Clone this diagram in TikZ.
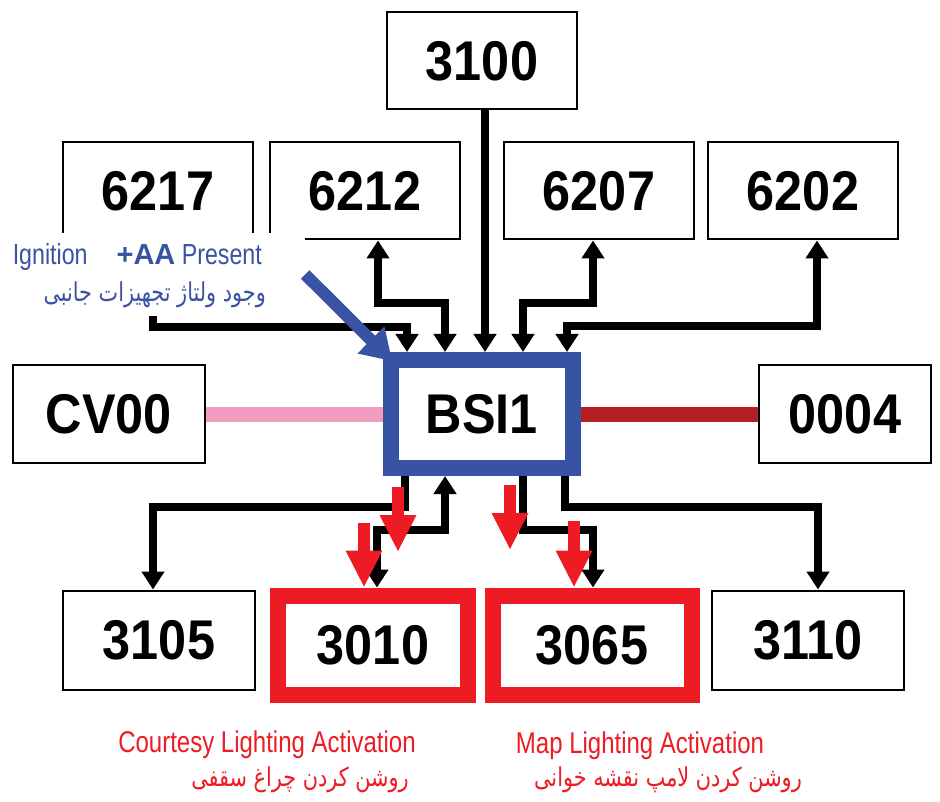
\documentclass[tikz,border=0pt]{standalone}
\usepackage{fontspec}
\usetikzlibrary{arrows.meta, positioning}
\setmainfont{Liberation Sans}
\newfontfamily\numfont[FakeStretch=0.9]{Liberation Sans}
\newfontfamily\condfont[FakeStretch=0.8]{Liberation Sans}
\newfontfamily\farsifont[Script=Arabic, FakeStretch=0.8]{DejaVu Sans}
\TeXXeTstate=1
\definecolor{bsiblue}{RGB}{57,83,164}
\definecolor{markred}{RGB}{237,28,36}
\definecolor{linkpink}{RGB}{242,156,192}
\definecolor{linkdark}{RGB}{181,31,36}

\begin{document}
\begin{tikzpicture}[
        x=1pt, y=-1pt, on grid,
        ecu/.style={draw, line width=2pt, fill=white, minimum width=190pt, minimum height=97pt, inner sep=0pt, font=\numfont\bfseries\fontsize{56}{60}\selectfont},
        hub/.style={ecu, draw=bsiblue, line width=16pt, minimum width=182pt, minimum height=108pt},
        lit/.style={ecu, draw=markred, line width=16pt, minimum width=190pt, minimum height=99pt},
        wire/.style={line width=8pt},
        into/.style={wire, -{Triangle[width=22pt,length=18pt]}},
        both/.style={wire, {Triangle[width=22pt,length=18pt]}-{Triangle[width=22pt,length=18pt]}},
        hint/.style={markred, line width=12pt, -{Triangle[width=34pt,length=37pt]}},
        pointer/.style={bsiblue, line width=12pt, shorten >=-13pt, -{Triangle[width=36pt,length=30pt]}},
        bus/.style={line width=15pt},
        note/.style={fill=white, minimum width=305pt, minimum height=83pt, inner sep=0pt},
        bluetext/.style={text=bsiblue, inner sep=0pt},
        redtext/.style={text=markred, inner sep=0pt}
    ]
        \fill[white] (0,0) rectangle (940,802);
        \useasboundingbox (0,0) rectangle (940,802);

        % modules
        \node[hub] (bsi) at (482,414) {BSI1};
        \node[ecu, above=353pt of bsi] (n3100) {3100};
        \node[ecu, above left=223pt and 324pt of bsi] (n6217) {6217};
        \node[ecu, above left=223pt and 117pt of bsi] (n6212) {6212};
        \node[ecu, above right=223pt and 117pt of bsi] (n6207) {6207};
        \node[ecu, above right=223pt and 321pt of bsi] (n6202) {6202};
        \node[ecu, left=373pt of bsi, minimum width=192pt, minimum height=98pt] (cv00) {CV00};
        \node[ecu, right=363pt of bsi, minimum width=172pt, minimum height=98pt] (n0004) {0004};
        \node[ecu, below left=226pt and 323pt of bsi, minimum width=192pt, minimum height=99pt] (n3105) {3105};
        \node[lit, below left=231pt and 109pt of bsi] (n3010) {3010};
        \node[lit, below right=231pt and 110pt of bsi, minimum width=199pt] (n3065) {3065};
        \node[ecu, below right=226pt and 326pt of bsi, minimum width=192pt, minimum height=99pt] (n3110) {3110};

        % buses
        \draw[bus, linkpink] (cv00.east) -- (bsi.west);
        \draw[bus, linkdark] (bsi.east) -- (n0004.west);

        % upper wiring
        \draw[into] ([xshift=3pt]n3100.south) -- ([xshift=3pt]bsi.north);
        \draw[into] ([xshift=-5pt]n6217.south) |- ([xshift=-75pt,yshift=25pt]bsi.north) -- ([xshift=-75pt]bsi.north);
        \draw[both] ([xshift=13pt]n6212.south) |- ([xshift=-37pt,yshift=49pt]bsi.north) -- ([xshift=-37pt]bsi.north);
        \draw[both] ([xshift=-6pt]n6207.south) |- ([xshift=41pt,yshift=49pt]bsi.north) -- ([xshift=41pt]bsi.north);
        \draw[both] ([xshift=14pt]n6202.south) |- ([xshift=85pt,yshift=26pt]bsi.north) -- ([xshift=85pt]bsi.north);

        % lower wiring
        \draw[into] ([xshift=-77pt]bsi.south) -- ([xshift=-77pt,yshift=-31pt]bsi.south) -| ([xshift=-6pt]n3105.north);
        \draw[both] ([xshift=-37pt]bsi.south) -- ([xshift=-37pt,yshift=-54pt]bsi.south) -| ([xshift=4pt]n3010.north);
        \draw[into] ([xshift=41pt]bsi.south) -- ([xshift=41pt,yshift=-54pt]bsi.south) -| ([xshift=1pt]n3065.north);
        \draw[into] ([xshift=83pt]bsi.south) -- ([xshift=83pt,yshift=-31pt]bsi.south) -| ([xshift=10pt]n3110.north);

        % red markers
        \draw[hint] ([xshift=-84pt,yshift=-11pt]bsi.south) -- ([xshift=-84pt,yshift=-76pt]bsi.south);
        \draw[hint] ([xshift=-9pt,yshift=65pt]n3010.north) -- ([xshift=-9pt]n3010.north);
        \draw[hint] ([xshift=28pt,yshift=-9pt]bsi.south) -- ([xshift=28pt,yshift=-74pt]bsi.south);
        \draw[hint] ([xshift=-18pt,yshift=67pt]n3065.north) -- ([xshift=-18pt]n3065.north);

        % ignition note
        \node[note] (lbl) at (152.5,274.5) {};
        \node[bluetext, anchor=base east, font=\condfont\fontsize{29}{32}\selectfont] (ign) at (262,265) {Ignition\hspace{29pt}{\rmfamily\bfseries +AA} Present};
        \node[bluetext, anchor=base east, font=\farsifont\fontsize{26}{30}\selectfont] (ignfa) at (266,302) {\beginR وجود ولتاژ تجهیزات جانبی\endR};
        \draw[pointer] (lbl.east) -- (bsi.north west);

        % captions
        \node[redtext, anchor=base, font=\condfont\fontsize{30}{34}\selectfont] (courtesy) at (267,752) {Courtesy Lighting Activation};
        \node[redtext, anchor=base, font=\farsifont\fontsize{26}{30}\selectfont] (courtesyfa) at (300,786) {\beginR روشن کردن چراغ سقفی\endR};
        \node[redtext, anchor=base, font=\condfont\fontsize{30}{34}\selectfont] (maplamp) at (640,753) {Map Lighting Activation};
        \node[redtext, anchor=base, font=\farsifont\fontsize{26}{30}\selectfont] (maplampfa) at (668,786) {\beginR روشن کردن لامپ نقشه خوانی\endR};
    \end{tikzpicture}
\end{document}
